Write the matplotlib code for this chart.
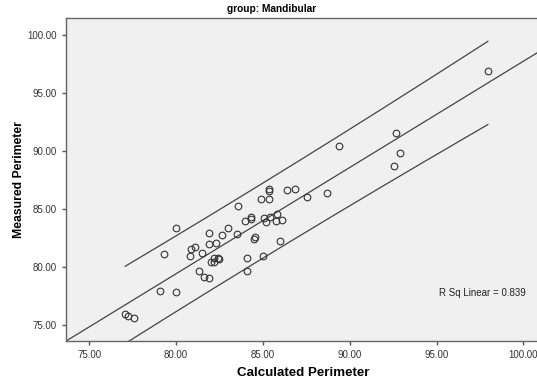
import numpy as np
import matplotlib
matplotlib.use("Agg")
import matplotlib.pyplot as plt

plt.rcParams['font.family'] = ['Liberation Sans', 'DejaVu Sans']

calculated = [97.95, 92.67, 92.87, 92.52, 89.37, 88.71, 87.56, 86.83, 86.41, 85.37,
              85.37, 84.87, 85.37, 83.58, 84.33, 84.33, 83.96, 85.06, 85.19, 85.40,
              85.79, 85.75, 86.08, 83.52, 84.52, 84.48, 86.00, 80.00, 81.92, 82.66,
              83.02, 79.29, 80.79, 80.87, 81.08, 81.50, 81.92, 82.31, 82.17, 82.02,
              82.17, 82.40, 82.50, 81.31, 81.64, 81.88, 84.10, 84.06, 85.02, 79.06,
              79.98, 77.08, 77.23, 77.56]
measured = [96.92, 91.55, 89.80, 88.71, 90.43, 86.41, 86.03, 86.75, 86.64, 86.70,
            86.55, 85.84, 85.84, 85.29, 84.30, 84.15, 83.94, 84.25, 83.85, 84.28,
            84.57, 83.94, 84.02, 82.84, 82.61, 82.41, 82.20, 83.33, 82.96, 82.79,
            83.33, 81.15, 80.98, 81.53, 81.70, 81.24, 81.98, 82.09, 80.80, 80.46,
            80.40, 80.80, 80.72, 79.68, 79.16, 79.07, 80.75, 79.66, 80.95, 77.96,
            77.82, 75.95, 75.80, 75.63]
xticks = [75, 80, 85, 90, 95, 100]
yticks = [75, 80, 85, 90, 95, 100]
title = "group: Mandibular"
xlabel = "Calculated Perimeter"
ylabel = "Measured Perimeter"
r2_label = "R Sq Linear = 0.839"

x = np.array(calculated)
y = np.array(measured)
n = len(x)
slope, intercept = np.polyfit(x, y, 1)
resid = y - (intercept + slope * x)
s = np.sqrt(np.sum(resid ** 2) / (n - 2))
t = 2.006
xm = x.mean()
sxx = np.sum((x - xm) ** 2)

fig = plt.figure(figsize=(5.37, 3.79), dpi=100)
ax = fig.add_axes([66 / 537, 38 / 379, 474 / 537, 323 / 379])
ax.set_facecolor('#F0F0F0')
xlim = (73.67, 100.95)
ylim = (73.62, 101.47)
ax.set_xlim(*xlim)
ax.set_ylim(*ylim)

lc = '#444444'
xx = np.linspace(xlim[0], xlim[1], 200)
ax.plot(xx, intercept + slope * xx, color=lc, lw=0.9)
xp = np.linspace(x.min(), x.max(), 200)
half = t * s * np.sqrt(1 + 1 / n + (xp - xm) ** 2 / sxx)
ax.plot(xp, intercept + slope * xp + half, color=lc, lw=0.9)
ax.plot(xp, intercept + slope * xp - half, color=lc, lw=0.9)

ax.plot(x, y, 'o', mfc='none', mec='#333333', ms=4.8, mew=0.8)

ax.set_xticks(xticks)
ax.set_yticks(yticks)
ax.set_xticklabels([f"{v:.2f}" for v in xticks])
ax.set_yticklabels([f"{v:.2f}" for v in yticks])
ax.tick_params(direction='out', length=3, width=1, colors='#555555',
               labelcolor='#333333', labelsize=7)
for sp in ['left', 'bottom', 'top']:
    ax.spines[sp].set_color('#666666')
    ax.spines[sp].set_linewidth(1)
ax.spines['right'].set_visible(False)

ax.set_xlabel(xlabel, fontsize=9.6, fontweight='bold', labelpad=5)
ax.set_ylabel(ylabel, fontsize=8.8, fontweight='bold', labelpad=1.5)
fig.text(272 / 537, 1 - 9 / 379, title, fontsize=7.3, fontweight='bold',
         ha='center', va='center')
fig.text(482 / 537, 1 - 293 / 379, r2_label, fontsize=7, ha='center',
         va='center', color='#222222')

fig.savefig('out.png', dpi=100)
